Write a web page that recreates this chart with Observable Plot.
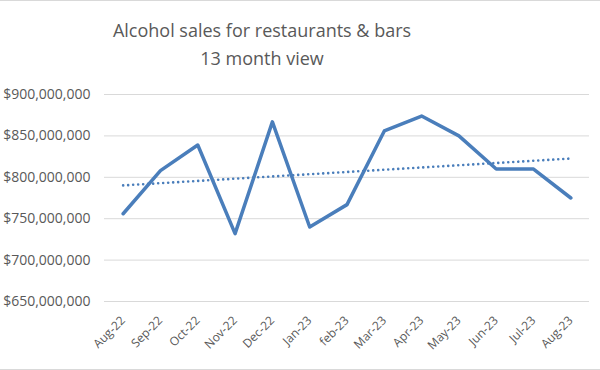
<!DOCTYPE html>
<html>
<head>
<meta charset="utf-8">
<script src="https://cdn.jsdelivr.net/npm/d3@7"></script>
<script src="https://cdn.jsdelivr.net/npm/@observablehq/plot@0.6"></script>
<style>
  html, body { margin: 0; padding: 0; background: #fff; }
  #chart { position: relative; width: 600px; height: 370px; overflow: hidden; box-sizing: border-box; border-top: 1px solid #d9d9d9; border-bottom: 1px solid #d9d9d9; }
  #title { position: absolute; left: 0; width: 524px; top: 15px; text-align: center; font-family: "Open Sans", sans-serif; font-size: 18px; line-height: 28px; color: #595959; }
  #plot { position: absolute; left: 0; top: 79px; }
</style>
</head>
<body>
<div id="chart">
  <div id="title">Alcohol sales for restaurants &amp; bars<br>13 month view</div>
  <div id="plot"></div>
</div>
<script>
const months = ["Aug-22","Sep-22","Oct-22","Nov-22","Dec-22","Jan-23","feb-23","Mar-23","Apr-23","May-23","Jun-23","Jul-23","Aug-23"];
const sales = [756e6, 808e6, 839e6, 732e6, 867e6, 740e6, 767e6, 856e6, 874e6, 850e6, 810e6, 810e6, 775e6];
const yTicks = [650e6, 700e6, 750e6, 800e6, 850e6, 900e6];

const data = months.map((m, i) => ({i, month: m, value: sales[i]}));
const color = "#4a7ebb";

const chart = Plot.plot({
  width: 600,
  height: 290,
  marginLeft: 104,
  marginRight: 11,
  marginTop: 14,
  marginBottom: 69,
  style: {fontFamily: "'Open Sans', sans-serif", fontSize: "13px", color: "#595959", background: "transparent"},
  x: {type: "linear", domain: [-0.5, months.length - 0.5]},
  y: {domain: [650e6, 900e6]},
  marks: [
    Plot.gridY(yTicks, {stroke: "#d9d9d9", strokeOpacity: 1, strokeWidth: 1}),
    Plot.axisY(yTicks, {tickSize: 0, tickPadding: 14, tickFormat: d3.format("$,.0f"), label: null, fontSize: 14, fill: "#595959"}),
    Plot.axisX(d3.range(months.length), {tickSize: 0, tickPadding: 17, tickRotate: -45, tickFormat: i => months[i], label: null, fontSize: 12, fill: "#595959"}),
    Plot.linearRegressionY(data, {x: "i", y: "value", ci: 0, stroke: color, strokeWidth: 2.6, strokeDasharray: "0.01 5", strokeLinecap: "round"}),
    Plot.line(data, {x: "i", y: "value", stroke: color, strokeWidth: 3.5, strokeLinejoin: "round", strokeLinecap: "round"})
  ]
});
document.getElementById("plot").appendChild(chart);
</script>
</body>
</html>
